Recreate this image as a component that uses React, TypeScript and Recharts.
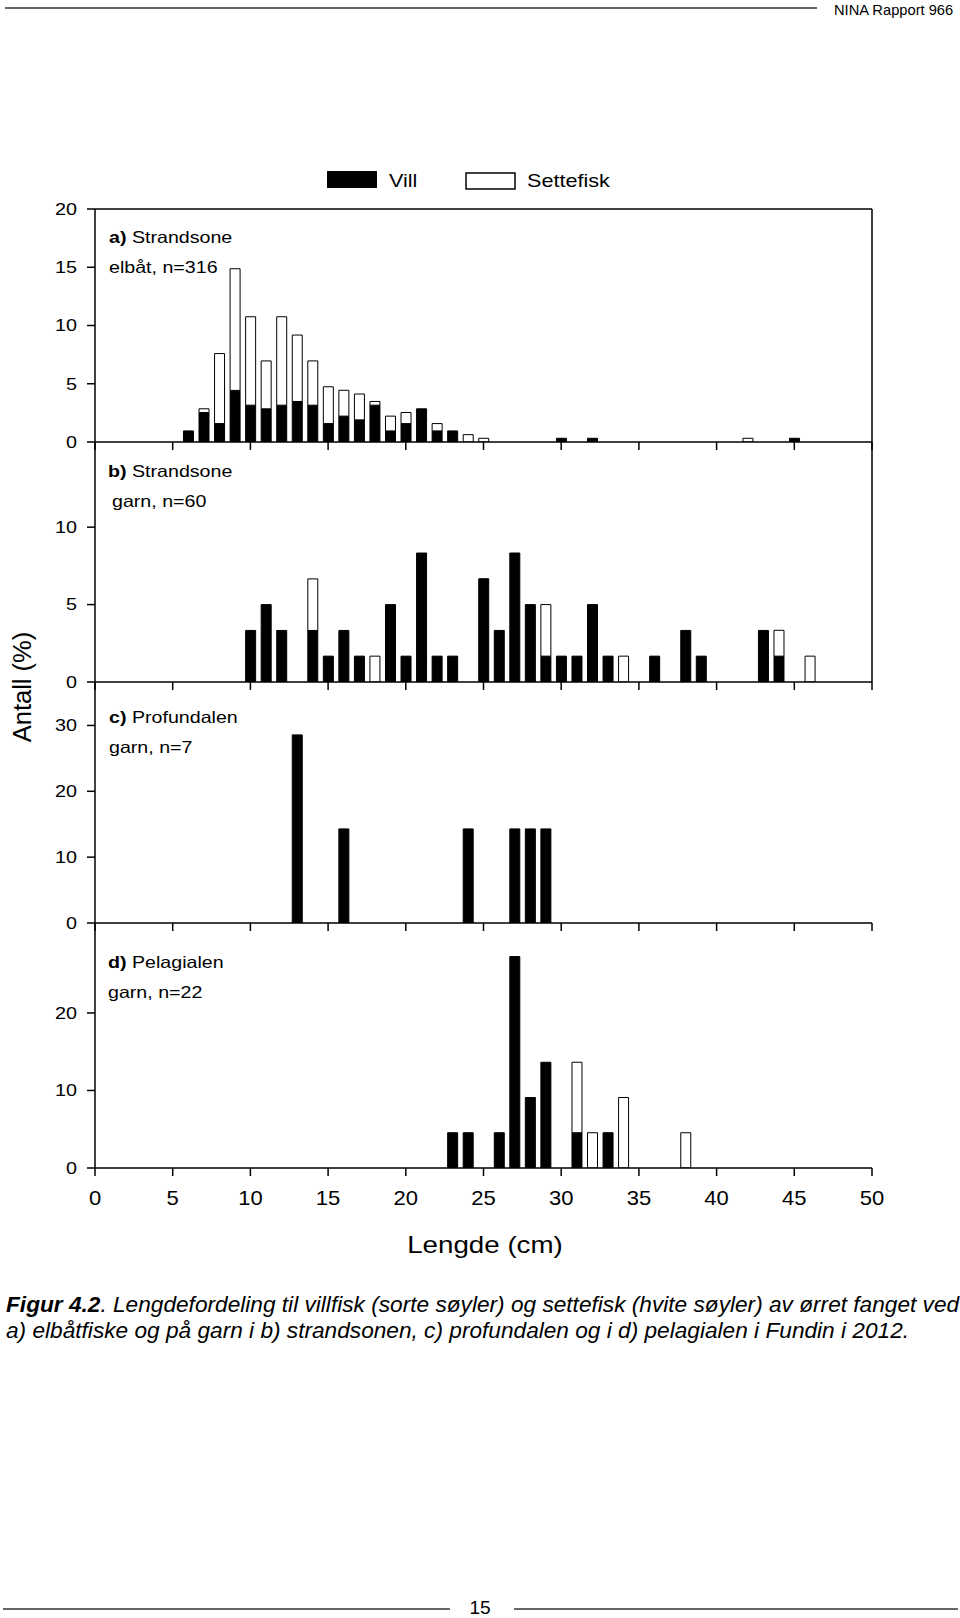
import { Bar, BarChart, ReferenceLine, XAxis, YAxis } from 'recharts'

const LENGTH_TICKS = [0, 5, 10, 15, 20, 25, 30, 35, 40, 45, 50]

// a) Strandsone, elbåt, n=316  (% per cm class)
const aLength = [6, 7, 8, 9, 10, 11, 12, 13, 14, 15, 16, 17, 18, 19, 20, 21, 22, 23, 24, 25, 30, 32, 42, 45]
const aVill = [0.95, 2.53, 1.58, 4.43, 3.16, 2.85, 3.16, 3.48, 3.16, 1.58, 2.22, 1.9, 3.16, 0.95, 1.58, 2.85, 0.95, 0.95, 0, 0, 0.32, 0.32, 0, 0.32]
const aSette = [0, 0.32, 6.01, 10.44, 7.59, 4.11, 7.59, 5.7, 3.8, 3.16, 2.22, 2.22, 0.32, 1.27, 0.95, 0, 0.63, 0, 0.63, 0.32, 0, 0, 0.32, 0]

// b) Strandsone, garn, n=60
const bLength = [10, 11, 12, 14, 15, 16, 17, 18, 19, 20, 21, 22, 23, 25, 26, 27, 28, 29, 30, 31, 32, 33, 34, 36, 38, 39, 43, 44, 46]
const bVill = [3.33, 5, 3.33, 3.33, 1.67, 3.33, 1.67, 0, 5, 1.67, 8.33, 1.67, 1.67, 6.67, 3.33, 8.33, 5, 1.67, 1.67, 1.67, 5, 1.67, 0, 1.67, 3.33, 1.67, 3.33, 1.67, 0]
const bSette = [0, 0, 0, 3.33, 0, 0, 0, 1.67, 0, 0, 0, 0, 0, 0, 0, 0, 0, 3.33, 0, 0, 0, 0, 1.67, 0, 0, 0, 0, 1.67, 1.67]

// c) Profundalen, garn, n=7
const cLength = [13, 16, 24, 27, 28, 29]
const cVill = [28.57, 14.29, 14.29, 14.29, 14.29, 14.29]
const cSette = [0, 0, 0, 0, 0, 0]

// d) Pelagialen, garn, n=22
const dLength = [23, 24, 26, 27, 28, 29, 31, 32, 33, 34, 38]
const dVill = [4.55, 4.55, 4.55, 27.27, 9.09, 13.64, 4.55, 0, 4.55, 0, 0]
const dSette = [0, 0, 0, 0, 0, 0, 9.09, 4.55, 0, 9.09, 4.55]

const INK = '#000'
const FONT = '"Liberation Sans", Arial, Helvetica, sans-serif'

function rows(len: number[], vill: number[], sette: number[]) {
  return len.map((l, i) => ({ len: l, vill: vill[i], sette: sette[i] }))
}

function YTick(p: any) {
  return (
    <text transform={`translate(${p.x},${p.y}) scale(1.2,1)`} textAnchor="end" dy="0.355em"
      fontSize={16.5} fill={INK} fontFamily={FONT}>
      {p.payload.value}
    </text>
  )
}

function XTick(p: any) {
  return (
    <text transform={`translate(${p.x},${p.y}) scale(1.1,1)`} textAnchor="middle" dy="0.72em"
      fontSize={20} fill={INK} fontFamily={FONT}>
      {p.payload.value}
    </text>
  )
}

const NoTick = () => <g />

function Panel({ data, top, plotH, yMax, yTicks, labels, box, right }: {
  data: { len: number; vill: number; sette: number }[]
  top: number
  plotH: number
  yMax: number
  yTicks: number[]
  labels?: boolean
  box?: boolean
  right?: boolean
}) {
  const axisH = labels ? 50 : 20
  return (
    <div style={{ position: 'absolute', left: 0, top: top - 10 }}>
      <BarChart width={960} height={10 + plotH + axisH} data={data} barSize={10}
        margin={{ top: 10, right: 88, left: 35, bottom: 0 }}>
        <XAxis type="number" dataKey="len" domain={[0, 50]} ticks={LENGTH_TICKS} interval={0}
          height={axisH} tickSize={8} tickMargin={15} stroke={INK} strokeWidth={1.5}
          tick={labels ? XTick : NoTick} />
        <YAxis type="number" domain={[0, yMax]} ticks={yTicks} allowDataOverflow interval={0}
          width={60} tickSize={8} tickMargin={10} stroke={INK} strokeWidth={1.5} tick={YTick} />
        {box && <ReferenceLine y={yMax} stroke={INK} strokeWidth={1.5} ifOverflow="visible" />}
        {right && <ReferenceLine x={50} stroke={INK} strokeWidth={1.5} ifOverflow="visible" />}
        <Bar dataKey="vill" stackId="s" fill="#000" stroke={INK} strokeWidth={1} isAnimationActive={false} />
        <Bar dataKey="sette" stackId="s" fill="#fff" stroke={INK} strokeWidth={1} isAnimationActive={false} />
      </BarChart>
    </div>
  )
}

function T({ x, y, size, sx = 1, anchor = 'start', weight, italic, children }: any) {
  return (
    <text transform={`translate(${x},${y}) scale(${sx},1)`} fontSize={size} textAnchor={anchor}
      fontWeight={weight} fontStyle={italic ? 'italic' : undefined} fill={INK}>
      {children}
    </text>
  )
}

export default function App() {
  return (
    <div style={{ position: 'absolute', left: 0, top: 0, width: 960, height: 1618, background: '#fff', fontFamily: FONT }}>
      <Panel data={rows(aLength, aVill, aSette)} top={209} plotH={233} yMax={20} yTicks={[0, 5, 10, 15, 20]} box right />
      <Panel data={rows(bLength, bVill, bSette)} top={442} plotH={240} yMax={15.5} yTicks={[0, 5, 10]} right />
      <Panel data={rows(cLength, cVill, cSette)} top={682} plotH={241} yMax={36.6} yTicks={[0, 10, 20, 30]} />
      <Panel data={rows(dLength, dVill, dSette)} top={923} plotH={245} yMax={31.6} yTicks={[0, 10, 20]} labels />

      <svg width={960} height={1618} style={{ position: 'absolute', left: 0, top: 0, pointerEvents: 'none' }}
        fontFamily={FONT}>
        {/* page header */}
        <line x1={5} y1={8} x2={817} y2={8} stroke="#333" strokeWidth={1.5} />
        <T x={834} y={15} size={14} sx={1.05}>NINA Rapport 966</T>

        {/* legend */}
        <rect x={327} y={171} width={50} height={17} fill="#000" />
        <T x={389} y={187} size={18} sx={1.2}>Vill</T>
        <rect x={466} y={173} width={49} height={16} fill="#fff" stroke={INK} strokeWidth={1.5} />
        <T x={527} y={187} size={18} sx={1.2}>Settefisk</T>

        {/* panel labels */}
        <T x={109} y={243} size={16.5} sx={1.19}><tspan fontWeight="bold">a)</tspan> Strandsone</T>
        <T x={109} y={273} size={16.5} sx={1.19}>elbåt, n=316</T>
        <T x={108} y={477} size={16.5} sx={1.19}><tspan fontWeight="bold">b)</tspan> Strandsone</T>
        <T x={112} y={507} size={16.5} sx={1.19}>garn, n=60</T>
        <T x={109} y={723} size={16.5} sx={1.19}><tspan fontWeight="bold">c)</tspan> Profundalen</T>
        <T x={109} y={753} size={16.5} sx={1.19}>garn, n=7</T>
        <T x={108} y={968} size={16.5} sx={1.19}><tspan fontWeight="bold">d)</tspan> Pelagialen</T>
        <T x={108} y={998} size={16.5} sx={1.19}>garn, n=22</T>

        {/* axis titles */}
        <text transform="translate(31,687) rotate(-90)" fontSize={25.5} textAnchor="middle" fill={INK}>Antall (%)</text>
        <T x={485} y={1253} size={23.5} sx={1.18} anchor="middle">Lengde (cm)</T>

        {/* caption */}
        <T x={6} y={1312} size={22} sx={1.03} italic>
          <tspan fontWeight="bold">Figur 4.2</tspan>. Lengdefordeling til villfisk (sorte søyler) og settefisk (hvite søyler) av ørret fanget ved
        </T>
        <T x={6} y={1338} size={22} sx={1.03} italic>
          a) elbåtfiske og på garn i b) strandsonen, c) profundalen og i d) pelagialen i Fundin i 2012.
        </T>

        {/* page footer */}
        <line x1={3} y1={1609} x2={450} y2={1609} stroke="#333" strokeWidth={1.5} />
        <T x={480} y={1614} size={19} anchor="middle">15</T>
        <line x1={514} y1={1609} x2={958} y2={1609} stroke="#333" strokeWidth={1.5} />
      </svg>
    </div>
  )
}
